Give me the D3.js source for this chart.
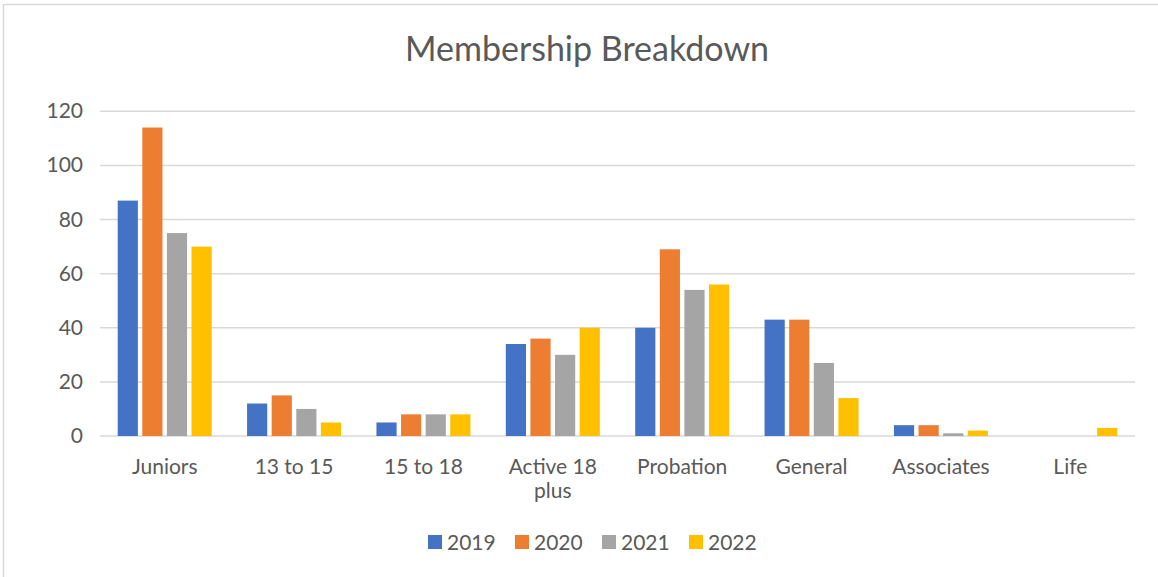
<!DOCTYPE html>
<html>
<head>
<meta charset="utf-8">
<script src="https://cdn.jsdelivr.net/npm/d3@7"></script>
<style>
  body { margin: 0; background: #fff; }
  svg { display: block; font-family: Lato, "Open Sans", sans-serif; }
</style>
</head>
<body>
<svg id="chart" width="1158" height="577"></svg>
<script>
// data
let categories = [ 'Juniors', '13 to 15', '15 to 18', 'Active 18 plus', 'Probation', 'General', 'Associates', 'Life' ]
let years = [ '2019', '2020', '2021', '2022' ]
let v2019 = [ 87, 12, 5, 34, 40, 43, 4, 0 ]
let v2020 = [ 114, 15, 8, 36, 69, 43, 4, 0 ]
let v2021 = [ 75, 10, 8, 30, 54, 27, 1, 0 ]
let v2022 = [ 70, 5, 8, 40, 56, 14, 2, 3 ]
let yTicks = [ 0, 20, 40, 60, 80, 100, 120 ]
let colors = [ '#4472c4', '#ed7d31', '#a5a5a5', '#ffc000' ]

let seriesVals = [ v2019, v2020, v2021, v2022 ]

let svg = d3.select( 'svg#chart' )

// chart frame
svg.append( 'rect' )
    .attr( 'x', 3.5 ).attr( 'y', 4.5 )
    .attr( 'width', 1170 ).attr( 'height', 590 )
    .attr( 'fill', 'none' ).attr( 'stroke', '#d9d9d9' ).attr( 'stroke-width', 1.5 )

let plotL = 100, plotR = 1135, plotT = 111.3, plotB = 436

let x = d3.scaleBand().domain( categories ).range( [ plotL, plotR ] )
let x1 = d3.scaleBand().domain( years ).range( [ 0, 94 ] ).paddingInner( 0.18 )
let y = d3.scaleLinear().domain( [ 0, 120 ] ).range( [ plotB, plotT ] )

// title
svg.append( 'text' )
    .attr( 'x', 587 ).attr( 'y', 61 )
    .attr( 'text-anchor', 'middle' )
    .attr( 'font-size', 34 )
    .attr( 'fill', '#595959' )
    .text( 'Membership Breakdown' )

// gridlines
svg.append( 'g' )
    .selectAll( 'line' )
    .data( yTicks )
    .enter()
    .append( 'line' )
    .attr( 'x1', plotL ).attr( 'x2', plotR )
    .attr( 'y1', d => y( d ) ).attr( 'y2', d => y( d ) )
    .attr( 'stroke', '#d9d9d9' ).attr( 'stroke-width', 1.5 )

// y tick labels
svg.append( 'g' )
    .selectAll( 'text' )
    .data( yTicks )
    .enter()
    .append( 'text' )
    .attr( 'x', 83 ).attr( 'y', d => y( d ) + 7 )
    .attr( 'text-anchor', 'end' )
    .attr( 'font-size', 21 )
    .attr( 'fill', '#595959' )
    .text( d => d )

// bars
let groups = svg.append( 'g' )
    .selectAll( 'g' )
    .data( categories )
    .enter()
    .append( 'g' )
    .attr( 'transform', d => 'translate(' + ( x( d ) + x.bandwidth() / 2 - 47 ) + ',0)' )

groups.selectAll( 'rect' )
    .data( ( d, i ) => years.map( ( yr, s ) => ( { yr: yr, s: s, v: seriesVals[ s ][ i ] } ) ) )
    .enter()
    .append( 'rect' )
    .filter( d => d.v > 0 )
    .attr( 'x', d => x1( d.yr ) )
    .attr( 'y', d => y( d.v ) )
    .attr( 'width', x1.bandwidth() )
    .attr( 'height', d => y( 0 ) - y( d.v ) )
    .attr( 'fill', d => colors[ d.s ] )

// category labels (wrap long ones)
let catLabels = svg.append( 'g' )
    .selectAll( 'text' )
    .data( categories )
    .enter()
    .append( 'text' )
    .attr( 'text-anchor', 'middle' )
    .attr( 'font-size', 21 )
    .attr( 'fill', '#595959' )

catLabels.each( function( d ) {
    let lines = d == 'Active 18 plus' ? [ 'Active 18', 'plus' ] : [ d ]
    d3.select( this ).selectAll( 'tspan' )
        .data( lines )
        .enter()
        .append( 'tspan' )
        .attr( 'x', x( d ) + x.bandwidth() / 2 )
        .attr( 'y', ( l, i ) => 474 + i * 24 )
        .text( l => l )
} )

// legend
let legendX = [ 428, 515, 602, 689 ]
let legend = svg.append( 'g' )
    .selectAll( 'g' )
    .data( years )
    .enter()
    .append( 'g' )
    .attr( 'transform', ( d, i ) => 'translate(' + legendX[ i ] + ',535)' )

legend.append( 'rect' )
    .attr( 'width', 14 ).attr( 'height', 14 )
    .attr( 'fill', ( d, i ) => colors[ i ] )

legend.append( 'text' )
    .attr( 'x', 19 ).attr( 'y', 15 )
    .attr( 'font-size', 21 )
    .attr( 'fill', '#595959' )
    .text( d => d )
</script>
</body>
</html>
